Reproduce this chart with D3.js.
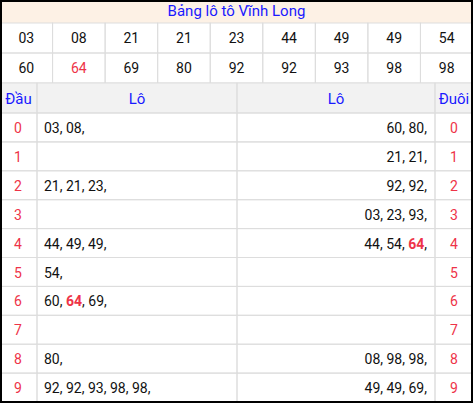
<!DOCTYPE html><html><head><meta charset="utf-8"><script src="https://cdn.jsdelivr.net/npm/d3@7/dist/d3.min.js"></script>
<style>body{margin:0;background:#fff}text{font-family:Roboto,sans-serif}</style></head><body><script>
const title="Bảng lô tô Vĩnh Long";
const numbers=["03","08","21","21","23","44","49","49","54","60","64","69","80","92","92","93","98","98"];
const special="64";
const digits=[0,1,2,3,4,5,6,7,8,9];
const heads=[["03","08"],[],["21","21","23"],[],["44","49","49"],["54"],["60","64","69"],[],["80"],["92","92","93","98","98"]];
const tails=[["60","80"],["21","21"],["92","92"],["03","23","93"],["44","54","64"],[],[],[],["08","98","98"],["49","49","69"]];
const W=473,H=403;
const svg=d3.select("body").append("svg").attr("width",W).attr("height",H);
const blue="#1a1aff",red="#ee3348",grid="#dddddd";
svg.append("rect").attr("x",0).attr("y",0).attr("width",W).attr("height",23).attr("fill","#fdf1e5");
svg.append("text").attr("x",W/2).attr("y",16).attr("text-anchor","middle").attr("font-size",15).attr("fill",blue).text(title);
const cx=d3.scaleBand().domain(d3.range(9)).range([0,W]);
const ry=d3.scaleBand().domain([0,1]).range([23,83]);
const g=svg.append("g");
numbers.forEach((n,i)=>{const c=i%9,r=Math.floor(i/9);
g.append("rect").attr("x",cx(c)).attr("y",ry(r)).attr("width",cx.bandwidth()).attr("height",ry.bandwidth()).attr("fill","none").attr("stroke",grid);
g.append("text").attr("x",cx(c)+cx.bandwidth()/2).attr("y",ry(r)+20).attr("text-anchor","middle").attr("font-size",14).attr("fill",n===special&&r===1&&c===1?red:"#111").text(n);});
const cols=[0,37,237,435,473];
const rowY=d3.scaleBand().domain(digits).range([113,402]);
svg.append("rect").attr("x",0).attr("y",83).attr("width",W).attr("height",30).attr("fill","#f2f2f2");
["Đầu","Lô","Lô","Đuôi"].forEach((t,i)=>{svg.append("rect").attr("x",cols[i]).attr("y",83).attr("width",cols[i+1]-cols[i]).attr("height",30).attr("fill","none").attr("stroke",grid);
svg.append("text").attr("x",(cols[i]+cols[i+1])/2).attr("y",104).attr("text-anchor","middle").attr("font-size",15).attr("fill",blue).text(t);});
function list(sel,arr,x,anchor){const t=sel.append("text").attr("x",x).attr("text-anchor",anchor).attr("font-size",14).attr("fill","#111");
arr.forEach(v=>{t.append("tspan").attr("fill",v===special?red:"#111").attr("font-weight",v===special?"bold":"normal").text(v);t.append("tspan").text(", ");});
return t;}
digits.forEach(d=>{const y=rowY(d),h=rowY.bandwidth();
for(let i=0;i<4;i++)svg.append("rect").attr("x",cols[i]).attr("y",y).attr("width",cols[i+1]-cols[i]).attr("height",h).attr("fill","none").attr("stroke",grid);
svg.append("text").attr("x",18).attr("y",y+20).attr("text-anchor","middle").attr("font-size",14).attr("fill",red).text(d);
svg.append("text").attr("x",454).attr("y",y+20).attr("text-anchor","middle").attr("font-size",14).attr("fill",red).text(d);
const a=list(svg,heads[d],44,"start").attr("y",y+20);
const b=list(svg,tails[d],427,"end").attr("y",y+20);
[a,b].forEach(t=>{const last=t.selectAll("tspan").nodes().pop();if(last)last.textContent=",";});
});
svg.append("rect").attr("x",1).attr("y",1).attr("width",W-2).attr("height",H-2).attr("fill","none").attr("stroke","#000").attr("stroke-width",2);
</script></body></html>
